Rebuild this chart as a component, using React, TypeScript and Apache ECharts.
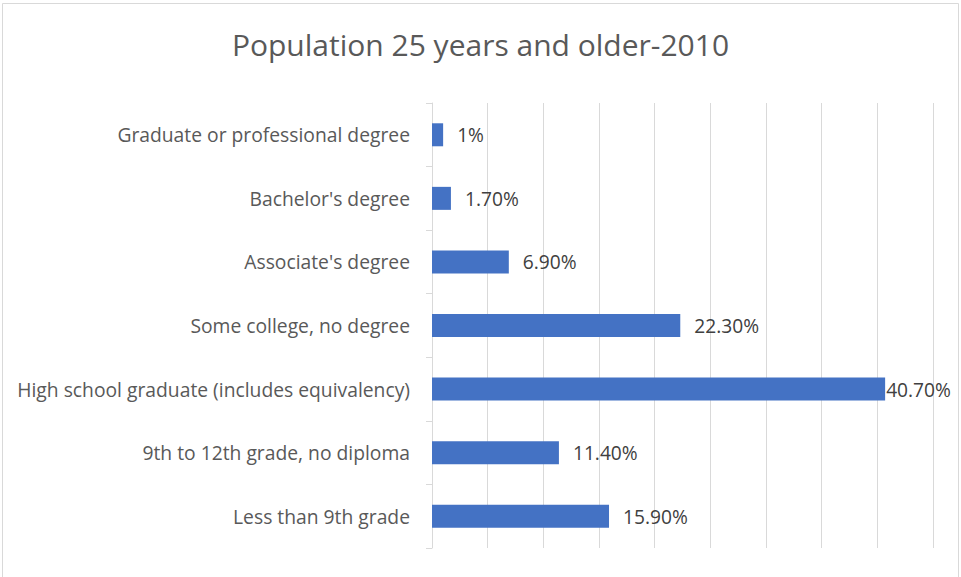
import React, { useEffect, useRef } from "react";
import * as echarts from "echarts";

const title = "Population 25 years and older-2010";
const categories = [
  "Less than 9th grade",
  "9th to 12th grade, no diploma",
  "High school graduate (includes equivalency)",
  "Some college, no degree",
  "Associate's degree",
  "Bachelor's degree",
  "Graduate or professional degree",
];
const values = [15.9, 11.4, 40.7, 22.3, 6.9, 1.7, 1.0];
const valueLabels = ["15.90%", "11.40%", "40.70%", "22.30%", "6.90%", "1.70%", "1%"];
const axisMax = 45;
const axisInterval = 5;

const FONT = "'Open Sans', 'Noto Sans', sans-serif";

export default function App() {
  const ref = useRef<HTMLDivElement>(null);
  useEffect(() => {
    if (!ref.current) return;
    const chart = echarts.init(ref.current, undefined, { renderer: "svg" });
    chart.setOption({
      animation: false,
      backgroundColor: "#ffffff",
      textStyle: { fontFamily: FONT },
      title: {
        text: title,
        left: "center",
        top: 24,
        textStyle: { fontFamily: FONT, fontSize: 30, fontWeight: "normal", color: "#595959" },
      },
      graphic: [
        {
          type: "rect",
          shape: { x: 2.5, y: 3.5, width: 956, height: 640 },
          style: { fill: "none", stroke: "#d9d9d9", lineWidth: 1 },
          silent: true,
        },
      ],
      grid: { left: 432, right: 28, top: 103, bottom: 29, containLabel: false },
      xAxis: {
        type: "value",
        min: 0,
        max: axisMax,
        interval: axisInterval,
        axisLabel: { show: false },
        axisLine: { show: false },
        axisTick: { show: false },
        splitLine: { show: true, lineStyle: { color: "#d9d9d9", width: 1 } },
      },
      yAxis: {
        type: "category",
        data: categories,
        axisLine: { show: true, lineStyle: { color: "#d9d9d9", width: 1 } },
        axisTick: { show: true, length: 6, lineStyle: { color: "#d9d9d9" } },
        axisLabel: { margin: 22, fontSize: 19.3, color: "#595959", fontFamily: FONT },
      },
      series: [
        {
          type: "bar",
          data: values.map((v, i) => ({
            value: v,
            label: i === 2 ? { distance: 1 } : undefined,
          })),
          barWidth: 23,
          itemStyle: { color: "#4472C4" },
          label: {
            show: true,
            position: "right",
            distance: 14,
            fontSize: 19.2,
            color: "#404040",
            fontFamily: FONT,
            formatter: (p: any) => valueLabels[p.dataIndex],
          },
        },
      ],
    });
    return () => chart.dispose();
  }, []);
  return (
    <div
      ref={ref}
      style={{ position: "fixed", left: 0, top: 0, width: 961, height: 577 }}
    />
  );
}
